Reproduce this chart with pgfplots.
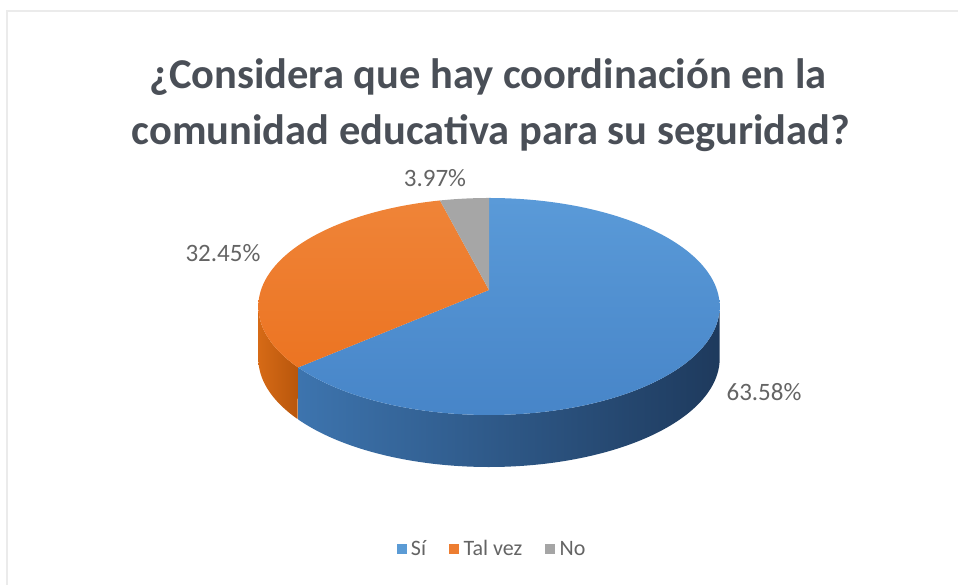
\documentclass[border=0pt]{standalone}
\usepackage{pgfplots}
\pgfplotsset{compat=1.18}
\usepackage{fontspec}
\setmainfont{Carlito}
\definecolor{titleC}{HTML}{4A4F57}
\definecolor{labC}{HTML}{646464}
\definecolor{siTopA}{HTML}{5A9AD8}
\definecolor{siTopB}{HTML}{4785C8}
\definecolor{siSideA}{HTML}{3D74AE}
\definecolor{siSideB}{HTML}{1E3A5D}
\definecolor{tvTopA}{HTML}{EF8438}
\definecolor{tvTopB}{HTML}{EC7422}
\definecolor{tvSideA}{HTML}{D66A16}
\definecolor{tvSideB}{HTML}{B8560C}
\definecolor{noTop}{HTML}{A6A6A6}
\definecolor{siC}{HTML}{5B9BD5}
\definecolor{tvC}{HTML}{ED7D31}
\definecolor{noC}{HTML}{A5A5A5}
% data (percent)
\def\vSi{63.58}
\def\vTv{32.45}
\def\vNo{3.97}
\pgfmathsetmacro\aA{90}
\pgfmathsetmacro\aB{90-3.6*\vSi}
\pgfmathsetmacro\aC{\aB-3.6*\vTv}
\pgfmathsetmacro\aD{\aC-3.6*\vNo}
\begin{document}
\begin{tikzpicture}
\begin{axis}[
  width=958bp, height=585bp, scale only axis,
  xmin=0, xmax=958, ymin=0, ymax=585, y dir=reverse,
  hide axis, clip=false,
  declare function={
    PX(\t)=489+228*cos(\t)/(1+0.152*sin(\t));
    PY(\t)=290-106*sin(\t)/(1+0.152*sin(\t));
    TT(\s,\a,\b)=ifthenelse(\s<=1, \a+(\b-\a)*\s, \b-(\b-\a)*(\s-1));
  },
  legend style={at={(axis cs:492,549)}, anchor=center, draw=none, fill=none,
    legend columns=3, font=\fontsize{22bp}{25bp}\selectfont, text=labC,
    /tikz/every even column/.append style={column sep=21bp},
    legend cell align=left},
  legend image code/.code={\fill[#1] (0bp,-4.5bp) rectangle (9bp,4.5bp); \path (12bp,0bp);},
]
% frame
\draw[color=black!8, line width=1.5bp] (axis cs:7,585) -- (axis cs:7,11) -- (axis cs:958,11);
% sides
\addplot[forget plot, draw=none, left color=tvSideA, right color=tvSideB, variable=\s, domain=0:2, samples=241]
  ({PX(TT(\s,-171.26,\aB))},{PY(TT(\s,-171.26,\aB))+52*(\s>1)}) -- cycle;
\addplot[forget plot, draw=none, left color=siSideA, right color=siSideB, variable=\s, domain=0:2, samples=241]
  ({PX(TT(\s,\aB,-8.74))},{PY(TT(\s,\aB,-8.74))+52*(\s>1)}) -- cycle;
% top faces
\addplot[forget plot, draw=none, top color=siTopA, bottom color=siTopB, variable=\t, domain=\aB:\aA, samples=150]
  ({PX(\t)},{PY(\t)}) -- (axis cs:489,290) -- cycle;
\addplot[forget plot, draw=none, top color=tvTopA, bottom color=tvTopB, variable=\t, domain=\aC:\aB, samples=100]
  ({PX(\t)},{PY(\t)}) -- (axis cs:489,290) -- cycle;
\addplot[forget plot, draw=none, fill=noTop, variable=\t, domain=\aD:\aC, samples=20]
  ({PX(\t)},{PY(\t)}) -- (axis cs:489,290) -- cycle;
% title
\node[text=titleC, font=\fontsize{42.5bp}{48bp}\selectfont\bfseries, anchor=base] at (axis cs:488,89) {¿Considera que hay coordinación en la};
\node[text=titleC, font=\fontsize{42.5bp}{48bp}\selectfont\bfseries, anchor=base] at (axis cs:491,144) {comunidad educativa para su seguridad?};
% data labels
\node[text=labC, font=\fontsize{25bp}{28bp}\selectfont] at (axis cs:435,178) {3.97\%};
\node[text=labC, font=\fontsize{25bp}{28bp}\selectfont] at (axis cs:223,253) {32.45\%};
\node[text=labC, font=\fontsize{25bp}{28bp}\selectfont] at (axis cs:764,392) {63.58\%};
% legend
\addlegendimage{siC}
\addlegendentry{Sí}
\addlegendimage{tvC}
\addlegendentry{Tal vez}
\addlegendimage{noC}
\addlegendentry{No}
\end{axis}
\pgfresetboundingbox
\path (0,0) rectangle (958bp,585bp);
\end{tikzpicture}
\end{document}
